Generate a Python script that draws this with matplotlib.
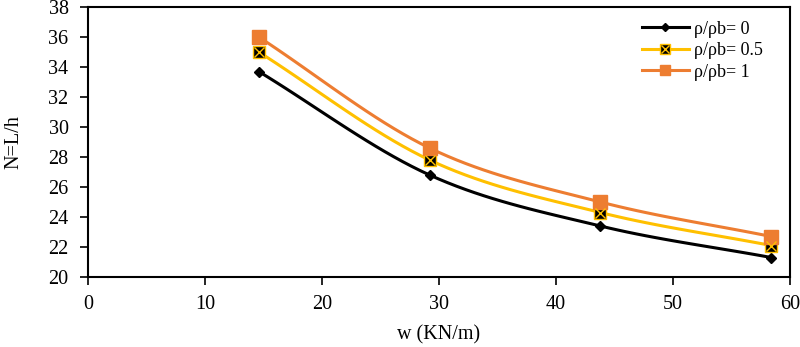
import numpy as np
import matplotlib
matplotlib.use("Agg")
import matplotlib.pyplot as plt
from matplotlib.lines import Line2D

plt.rcParams['font.family'] = ['Liberation Serif', 'DejaVu Serif']

w = [14.6, 29.2, 43.8, 58.4]
n_0 = [33.7, 26.8, 23.4, 21.3]
n_05 = [35.0, 27.8, 24.3, 22.1]
n_1 = [36.0, 28.6, 25.0, 22.7]
labels = ['ρ/ρb= 0', 'ρ/ρb= 0.5', 'ρ/ρb= 1']

def smooth(x, y, k=20):
    # Catmull-Rom style smoothing for display only
    x = np.asarray(x, float); y = np.asarray(y, float)
    px = np.concatenate([[2*x[0]-x[1]], x, [2*x[-1]-x[-2]]])
    py = np.concatenate([[2*y[0]-y[1]], y, [2*y[-1]-y[-2]]])
    xs, ys = [], []
    t = np.linspace(0, 1, k)
    for i in range(1, len(px)-2):
        p0, p1, p2, p3 = [np.array([px[j], py[j]]) for j in (i-1, i, i+1, i+2)]
        c1 = p1 + (p2 - p0) / 6
        c2 = p2 - (p3 - p1) / 6
        pts = ((1-t)**3)[:, None]*p1 + (3*(1-t)**2*t)[:, None]*c1 + (3*(1-t)*t**2)[:, None]*c2 + (t**3)[:, None]*p2
        xs.extend(pts[:, 0]); ys.extend(pts[:, 1])
    return xs, ys

fig = plt.figure(figsize=(8, 3.47), dpi=100)
ax = fig.add_axes([0.11, 0.2017, 0.8775, 0.778])

black = '#000000'
yellow = '#FFC000'
orange = '#ED7D31'

sx, sy = smooth(w, n_0)
ax.plot(sx, sy, color=black, lw=2.2, zorder=3)
ax.plot(w, n_0, ls='none', marker='D', ms=5, color=black, zorder=4)

sx, sy = smooth(w, n_05)
ax.plot(sx, sy, color=yellow, lw=2.2, zorder=3)
ax.plot(w, n_05, ls='none', marker='s', ms=8.5, mfc=black, mec=yellow, mew=1, zorder=4)
ax.plot(w, n_05, ls='none', marker='x', ms=6.5, color=yellow, mew=1, zorder=5)

sx, sy = smooth(w, n_1)
ax.plot(sx, sy, color=orange, lw=2.2, zorder=3)
ax.plot(w, n_1, ls='none', marker='s', ms=9.5, color=orange, zorder=4)

h0 = Line2D([], [], color=black, lw=2.2, marker='D', ms=4)
h05a = Line2D([], [], color=yellow, lw=2.2, marker='s', ms=7.5, mfc=black, mec=yellow)
h05b = Line2D([], [], ls='none', marker='x', ms=5.5, color=yellow)
h1 = Line2D([], [], color=orange, lw=2.2, marker='s', ms=7.5)
ax.legend([h0, (h05a, h05b), h1], labels, loc='upper right', bbox_to_anchor=(0.985, 1.01),
          frameon=False, fontsize=13, handlelength=2.6, handletextpad=0.3, labelspacing=0.25)

ax.set_xlim(0, 60)
ax.set_ylim(20, 38)
ax.set_xticks(np.arange(0, 61, 10))
ax.set_yticks(np.arange(20, 39, 2))
ax.tick_params(direction='out', length=6, width=1.2, labelsize=14.5)
ax.tick_params(axis='y', pad=8)
ax.tick_params(axis='x', pad=7)
for s in ax.spines.values():
    s.set_linewidth(1.5)
ax.set_xlabel('w (KN/m)', fontsize=14.5, labelpad=8)
ax.set_ylabel('N=L/h', fontsize=14.5, labelpad=18)

fig.savefig('out.png', dpi=100)
